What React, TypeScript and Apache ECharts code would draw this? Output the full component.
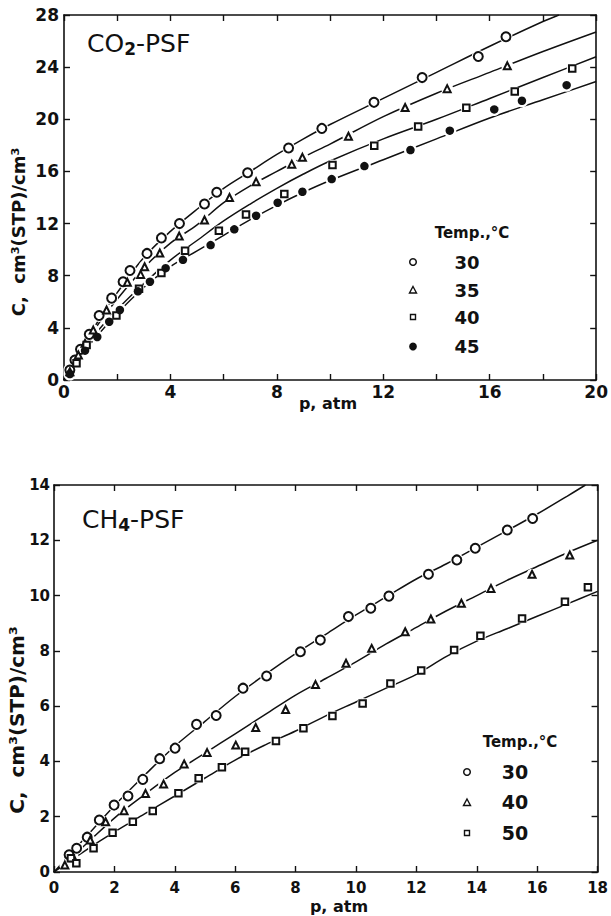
import React, { useEffect, useRef } from "react";
import * as echarts from "echarts";

// ---------- CO2-PSF (top chart) measured points ----------
const co2T30 = [[0.22,0.77],[0.41,1.53],[0.62,2.35],[0.95,3.5],[1.32,4.95],[1.79,6.28],[2.22,7.54],[2.48,8.4],[3.12,9.71],[3.66,10.9],[4.34,12.0],[5.28,13.5],[5.74,14.4],[6.9,15.9],[8.44,17.8],[9.69,19.3],[11.65,21.3],[13.46,23.2],[15.57,24.82],[16.61,26.33]];
const co2T35 = [[0.22,0.64],[0.54,1.92],[0.79,2.81],[1.1,3.83],[1.6,5.37],[2.38,7.5],[2.88,8.1],[3.03,8.69],[3.6,9.74],[4.33,11.04],[5.28,12.27],[6.22,14.0],[7.22,15.2],[8.56,16.56],[8.96,17.08],[10.69,18.7],[12.82,20.9],[14.4,22.35],[16.66,24.1]];
const co2T40 = [[0.47,1.28],[0.85,2.68],[1.97,4.95],[2.82,7.0],[3.66,8.2],[4.55,9.92],[5.82,11.45],[6.84,12.7],[8.28,14.26],[10.09,16.49],[11.66,17.97],[13.31,19.45],[15.12,20.88],[16.94,22.13],[19.1,23.9]];
const co2T45 = [[0.22,0.46],[0.79,2.25],[1.25,3.3],[1.7,4.47],[2.1,5.37],[2.78,6.8],[3.23,7.54],[3.82,8.58],[4.47,9.22],[5.51,10.35],[6.4,11.56],[7.22,12.6],[8.03,13.6],[8.96,14.44],[10.06,15.41],[11.29,16.41],[13.02,17.64],[14.5,19.13],[16.17,20.76],[17.21,21.42],[18.89,22.62]];

// fitted curves
const co2C30 = [[0,0],[0.5,1.9],[1,3.6],[1.5,5.2],[2,6.7],[3,9.4],[4,11.4],[5,13.1],[6,14.7],[7,16.0],[8,17.3],[9,18.5],[10,19.6],[12,21.6],[14,23.6],[16,25.6],[18,27.5],[18.6,28]];
const co2C35 = [[0,0],[0.5,1.8],[1,3.4],[1.5,4.9],[2,6.2],[3,8.6],[4,10.5],[5,11.9],[6,13.6],[7,14.9],[8,16.0],[9,17.1],[10,18.1],[12,20.2],[14,22.0],[16,23.6],[18,25.2],[20,26.7]];
const co2C40 = [[0,0],[0.5,1.6],[1,3.1],[2,5.4],[3,7.4],[4,9.2],[5,10.7],[6,12.2],[7,13.5],[8,14.7],[9,15.8],[10,16.8],[12,18.5],[14,20.0],[16,21.6],[18,23.2],[20,24.8]];
const co2C45 = [[0,0],[0.5,1.5],[1,2.8],[2,5.1],[3,7.1],[4,8.7],[5,9.9],[6,11.1],[7,12.3],[8,13.4],[9,14.4],[10,15.3],[12,16.9],[14,18.5],[16,20.1],[18,21.5],[20,22.9]];

// ---------- CH4-PSF (bottom chart) measured points ----------
const ch4T30 = [[0.5,0.62],[0.75,0.86],[1.1,1.26],[1.5,1.88],[1.99,2.42],[2.45,2.75],[2.94,3.35],[3.5,4.1],[4.01,4.48],[4.72,5.34],[5.37,5.66],[6.26,6.65],[7.04,7.09],[8.16,7.97],[8.82,8.39],[9.75,9.24],[10.49,9.54],[11.09,9.98],[12.4,10.77],[13.34,11.29],[13.95,11.71],[15.01,12.37],[15.85,12.79]];
const ch4T40 = [[0.36,0.25],[0.64,0.52],[1.2,1.16],[1.71,1.82],[2.32,2.22],[3.03,2.84],[3.63,3.18],[4.31,3.91],[5.07,4.32],[6.02,4.59],[6.68,5.23],[7.67,5.88],[8.66,6.78],[9.67,7.55],[10.52,8.09],[11.63,8.69],[12.48,9.15],[13.49,9.72],[14.47,10.26],[15.83,10.77],[17.08,11.47]];
const ch4T50 = [[0.56,0.5],[0.74,0.32],[1.31,0.86],[1.94,1.42],[2.61,1.82],[3.27,2.21],[4.12,2.85],[4.79,3.39],[5.56,3.79],[6.33,4.35],[7.35,4.74],[8.26,5.2],[9.22,5.64],[10.22,6.1],[11.14,6.82],[12.16,7.29],[13.25,8.03],[14.12,8.55],[15.5,9.17],[16.92,9.78],[17.68,10.3]];

const ch4C30 = [[0,0],[1,1.2],[2,2.4],[3,3.5],[4,4.55],[5,5.45],[6,6.35],[7,7.15],[8,7.9],[9,8.6],[10,9.3],[11,9.95],[12,10.6],[13,11.15],[14,11.75],[15,12.35],[16,12.95],[17,13.6],[17.6,14]];
const ch4C40 = [[0,0],[1,0.95],[2,1.95],[3,2.8],[4,3.6],[5,4.3],[6,5.0],[7,5.7],[8,6.4],[9,7.0],[10,7.6],[11,8.25],[12,8.85],[13,9.45],[14,10.0],[15,10.55],[16,11.05],[17,11.55],[18,12.0]];
const ch4C50 = [[0,0],[1,0.75],[2,1.45],[3,2.1],[4,2.75],[5,3.4],[6,4.05],[7,4.6],[8,5.1],[9,5.65],[10,6.15],[11,6.65],[12,7.15],[13,7.8],[14,8.35],[15,8.8],[16,9.25],[17,9.7],[18,10.15]];

const co2Legend = ["30", "35", "40", "45"];
const ch4Legend = ["30", "40", "50"];

const FONT = "DejaVu Sans";
const INK = "#111";

export default function App() {
  const ref = useRef<HTMLDivElement>(null);
  useEffect(() => {
    document.body.style.margin = "0";
    const chart = echarts.init(ref.current!, null, { renderer: "svg" });

    const xAx = (grid: number, max: number, interval: number, pos: string, labels: boolean, labelEvery: number, margin: number, fs: number) => ({
      type: "value", gridIndex: grid, min: 0, max, interval, position: pos,
      axisLine: { show: true, onZero: false, lineStyle: { color: INK, width: 1.6 } },
      axisTick: { show: true, inside: true, length: 6, lineStyle: { color: INK, width: 1.4 } },
      axisLabel: {
        show: labels, margin, color: INK, fontFamily: FONT, fontWeight: "bold", fontSize: fs,
        formatter: (v: number) => (v % labelEvery === 0 ? String(v) : ""),
      },
      splitLine: { show: false },
    });
    const yAx = (grid: number, max: number, interval: number, pos: string, labels: boolean, margin: number, fs: number) => ({
      type: "value", gridIndex: grid, min: 0, max, interval, position: pos,
      axisLine: { show: true, onZero: false, lineStyle: { color: INK, width: 1.6 } },
      axisTick: { show: true, inside: true, length: 6, lineStyle: { color: INK, width: 1.4 } },
      axisLabel: { show: labels, margin, color: INK, fontFamily: FONT, fontWeight: "bold", fontSize: fs },
      splitLine: { show: false },
    });

    const curve = (data: number[][], xi: number, yi: number) => ({
      type: "line", data, xAxisIndex: xi, yAxisIndex: yi, smooth: 0.35, showSymbol: false, symbol: "none",
      lineStyle: { color: INK, width: 1.5 }, z: 2, silent: true,
    });
    const halo = (data: number[][], xi: number, yi: number, size: number) => ({
      type: "scatter", data, xAxisIndex: xi, yAxisIndex: yi, symbol: "circle", symbolSize: size,
      itemStyle: { color: "#fff", opacity: 1 }, z: 3, silent: true,
    });
    const pts = (data: number[][], xi: number, yi: number, symbol: string, size: number, filled = false) => ({
      type: "scatter", data, xAxisIndex: xi, yAxisIndex: yi, symbol, symbolSize: size,
      itemStyle: filled ? { color: INK, opacity: 1 } : { color: INK, borderColor: INK, borderWidth: 1.3, opacity: 1 }, z: 4, silent: true,
    });

    const txt = (x: number, y: number, t: string, fs: number, rot = 0) => ({
      type: "text", x, y, rotation: rot,
      style: { text: t, fill: INK, font: `bold ${fs}px "${FONT}"`, textAlign: "center", textVerticalAlign: "middle" },
    });
    const title = (x: number, y: number, a: string, s: string, b: string) => ({
      type: "text", x, y,
      style: {
        text: `{a|${a}}{s|${s}}{a|${b}}`, textVerticalAlign: "middle",
        rich: {
          a: { fontFamily: FONT, fontSize: 25, fill: INK, fontWeight: "normal" },
          s: { fontFamily: FONT, fontSize: 17, fill: INK, fontWeight: "bold", padding: [12, 0, 0, 0] },
        },
      },
    });

    const option: any = {
      animation: false,
      backgroundColor: "#fff",
      grid: [
        { left: 64, right: 13, top: 15, height: 365 },
        { left: 54, right: 6, top: 485, height: 387 },
      ],
      xAxis: [
        xAx(0, 20, 2, "bottom", true, 4, 3, 17),
        xAx(0, 20, 2, "top", false, 4, 3, 17),
        xAx(1, 18, 2, "bottom", true, 2, 8, 15),
        xAx(1, 18, 2, "top", false, 2, 8, 15),
      ],
      yAxis: [
        yAx(0, 28, 4, "left", true, 5, 17),
        yAx(0, 28, 4, "right", false, 5, 17),
        yAx(1, 14, 2, "left", true, 4, 15),
        yAx(1, 14, 2, "right", false, 4, 15),
      ],
      series: [
        curve(co2C30, 0, 0), curve(co2C35, 0, 0), curve(co2C40, 0, 0), curve(co2C45, 0, 0),
        halo(co2T30, 0, 0, 13), halo(co2T35, 0, 0, 12), halo(co2T40, 0, 0, 11), halo(co2T45, 0, 0, 13),
        pts(co2T30, 0, 0, "emptyCircle", 9), pts(co2T35, 0, 0, "emptyTriangle", 7),
        pts(co2T40, 0, 0, "emptyRect", 6.5), pts(co2T45, 0, 0, "circle", 8.5, true),
        curve(ch4C30, 2, 2), curve(ch4C40, 2, 2), curve(ch4C50, 2, 2),
        halo(ch4T30, 2, 2, 13), halo(ch4T40, 2, 2, 11), halo(ch4T50, 2, 2, 11),
        pts(ch4T30, 2, 2, "emptyCircle", 9), pts(ch4T40, 2, 2, "emptyTriangle", 7), pts(ch4T50, 2, 2, "emptyRect", 6.5),
      ],
      graphic: [
        title(87, 43, "CO", "2", "-PSF"),
        title(82, 519, "CH", "4", "-PSF"),
        // axis names
        txt(328, 403, "p, atm", 16),
        txt(339, 906, "p, atm", 16),
        txt(18, 232, "C,  cm³(STP)/cm³", 18, Math.PI / 2),
        txt(17, 720, "C,  cm³(STP)/cm³", 20, Math.PI / 2),
        // legend top
        txt(472, 233, "Temp.,°C", 15),
        { type: "circle", shape: { cx: 413, cy: 262, r: 3.3 }, style: { fill: "#fff", stroke: INK, lineWidth: 1.5 } },
        { type: "polygon", shape: { points: [[413, 286.5], [416.5, 293], [409.5, 293]] }, style: { fill: "#fff", stroke: INK, lineWidth: 1.4 } },
        { type: "rect", shape: { x: 410.5, y: 314.5, width: 5, height: 5 }, style: { fill: "#fff", stroke: INK, lineWidth: 1.4 } },
        { type: "circle", shape: { cx: 413, cy: 346.5, r: 3.9 }, style: { fill: INK } },
        txt(467, 262, co2Legend[0], 18), txt(467, 290, co2Legend[1], 18), txt(467, 317, co2Legend[2], 18), txt(467, 346.5, co2Legend[3], 18),
        // legend bottom
        txt(520, 742, "Temp.,°C", 15),
        { type: "circle", shape: { cx: 467, cy: 772, r: 3.3 }, style: { fill: "#fff", stroke: INK, lineWidth: 1.5 } },
        { type: "polygon", shape: { points: [[467, 799], [470.5, 805.5], [463.5, 805.5]] }, style: { fill: "#fff", stroke: INK, lineWidth: 1.4 } },
        { type: "rect", shape: { x: 464.5, y: 830.5, width: 5, height: 5 }, style: { fill: "#fff", stroke: INK, lineWidth: 1.4 } },
        txt(515, 772, ch4Legend[0], 19), txt(515, 802, ch4Legend[1], 19), txt(515, 833, ch4Legend[2], 19),
      ],
    };
    chart.setOption(option);
    return () => chart.dispose();
  }, []);
  return <div ref={ref} style={{ width: 611, height: 916 }} />;
}
